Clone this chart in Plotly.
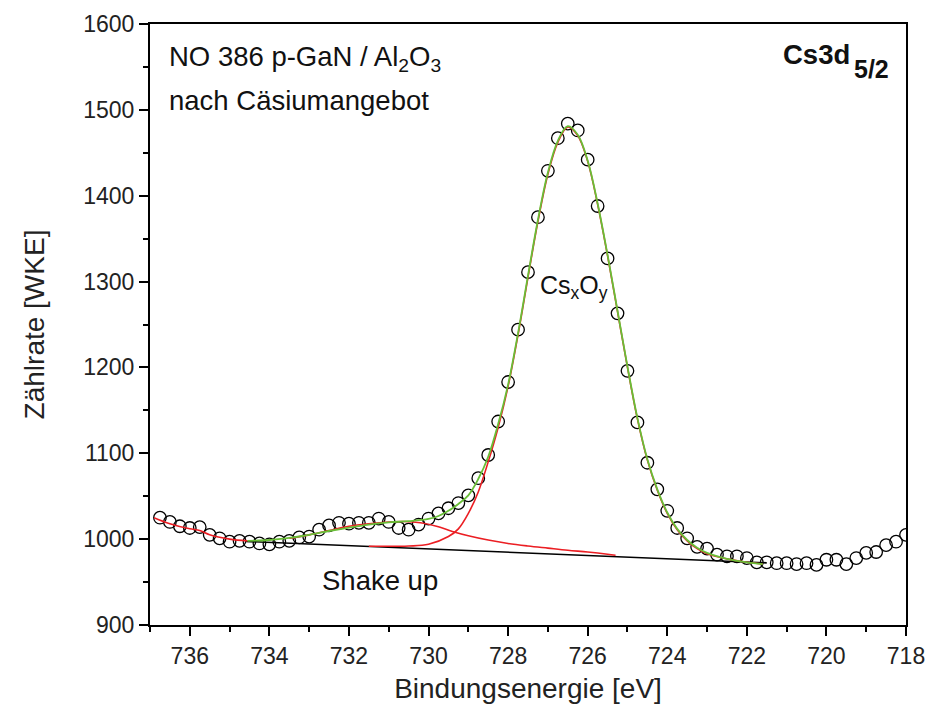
import plotly.graph_objects as go

# ---- measured data (open circles) ----
energy = [736.75, 736.5, 736.25, 736.0, 735.75, 735.5, 735.25, 735.0, 734.75, 734.5,
          734.25, 734.0, 733.75, 733.5, 733.25, 733.0, 732.75, 732.5, 732.25, 732.0,
          731.75, 731.5, 731.25, 731.0, 730.75, 730.5, 730.25, 730.0, 729.75, 729.5,
          729.25, 729.0, 728.75, 728.5, 728.25, 728.0, 727.75, 727.5, 727.25, 727.0,
          726.75, 726.5, 726.25, 726.0, 725.75, 725.5, 725.25, 725.0, 724.75, 724.5,
          724.25, 724.0, 723.75, 723.5, 723.25, 723.0, 722.75, 722.5, 722.25, 722.0,
          721.75, 721.5, 721.25, 721.0, 720.75, 720.5, 720.25, 720.0, 719.75, 719.5,
          719.25, 719.0, 718.75, 718.5, 718.25, 718.0]
counts = [1025, 1020, 1015, 1013, 1014, 1005, 1001, 997, 998, 997,
          995, 994, 997, 998, 1002, 1003, 1011, 1016, 1019, 1018,
          1019, 1019, 1024, 1020, 1013, 1011, 1017, 1024, 1030, 1036,
          1042, 1051, 1071, 1098, 1137, 1183, 1244, 1311, 1375, 1429,
          1467, 1484, 1476, 1442, 1388, 1327, 1263, 1196, 1136, 1089,
          1058, 1033, 1013, 1001, 991, 989, 982, 980, 980, 978,
          973, 973, 972, 972, 971, 972, 970, 976, 976, 971,
          978, 984, 985, 993, 997, 1005]

# ---- red line left of fit range ----
left_x = [736.9, 736.5, 736.0, 735.75, 735.5, 735.0, 734.55]
left_y = [1025, 1018, 1012, 1010, 1005, 1000, 998]

# ---- baseline ----
base_x = [734.6, 721.5]
base_y = [997.3, 972.4]

# ---- shake-up component ----
shake_x = [733.5, 733.0, 732.5, 732.0, 731.5, 731.0, 730.6, 730.2, 729.8, 729.4,
           729.0, 728.5, 728.0, 727.5, 727.0, 726.5, 726.0, 725.5, 725.3]
shake_y = [1001, 1005, 1010, 1015, 1018, 1020, 1020.5, 1019, 1015, 1009,
           1004, 999, 995, 992, 989.5, 987, 985, 982.5, 981.3]

# ---- main Cs_xO_y component ----
main_x = [731.5, 730.5, 730.0, 729.5, 729.25, 729.0, 728.75, 728.5, 728.25, 728.0,
          727.75, 727.5, 727.25, 727.0, 726.75, 726.5, 726.25, 726.0, 725.75, 725.5,
          725.25, 725.0, 724.75, 724.5, 724.25, 724.0, 723.75, 723.5, 723.25, 723.0,
          722.5, 722.0, 721.6]
main_y = [991.8, 992, 994, 1003, 1012, 1030, 1055, 1090, 1130, 1178,
          1238, 1305, 1370, 1425, 1462, 1480, 1470, 1440, 1390, 1330,
          1265, 1200, 1140, 1092, 1057, 1030, 1011, 998, 989, 983,
          977, 973, 971]

# ---- cumulative fit (green) ----
sum_x = [734.55, 734.0, 733.5, 733.0, 732.5, 732.0, 731.5, 731.0, 730.5, 730.0,
         729.75, 729.5, 729.25, 729.0, 728.75, 728.5, 728.25, 728.0, 727.75, 727.5,
         727.25, 727.0, 726.75, 726.5, 726.25, 726.0, 725.75, 725.5, 725.25, 725.0,
         724.75, 724.5, 724.25, 724.0, 723.75, 723.5, 723.25, 723.0, 722.5, 722.0, 721.6]
sum_y = [998, 999, 1001.5, 1005, 1009.5, 1013.5, 1017, 1019.5, 1021, 1023.5,
         1027, 1033, 1041, 1051, 1070, 1096, 1134, 1180, 1240, 1307,
         1372, 1427, 1464, 1481, 1471, 1441, 1391, 1331, 1266, 1201,
         1141, 1093, 1058, 1031, 1012, 999, 990, 984, 977, 973, 971]

RED = "rgb(235,30,35)"
GREEN = "rgb(105,190,55)"
FONT = "Liberation Sans, Arial, sans-serif"

fig = go.Figure()
fig.add_trace(go.Scatter(x=energy, y=counts, mode="markers",
                         marker=dict(symbol="circle-open", size=12.5, color="black",
                                     line=dict(width=1.3, color="black")),
                         showlegend=False))
fig.add_trace(go.Scatter(x=base_x, y=base_y, mode="lines",
                         line=dict(color="black", width=1.6), showlegend=False))
fig.add_trace(go.Scatter(x=left_x, y=left_y, mode="lines",
                         line=dict(color=RED, width=1.6, shape="spline"), showlegend=False))
fig.add_trace(go.Scatter(x=shake_x, y=shake_y, mode="lines",
                         line=dict(color=RED, width=1.6, shape="spline"), showlegend=False))
fig.add_trace(go.Scatter(x=main_x, y=main_y, mode="lines",
                         line=dict(color=RED, width=1.6, shape="spline"), showlegend=False))
fig.add_trace(go.Scatter(x=sum_x, y=sum_y, mode="lines",
                         line=dict(color=GREEN, width=1.8, shape="spline"), showlegend=False))

axis_common = dict(showgrid=False, zeroline=False, showline=True, linecolor="black",
                   linewidth=2, mirror=True, ticks="outside", tickwidth=2,
                   tickcolor="black", ticklen=9, automargin=False,
                   tickfont=dict(family=FONT, size=23, color="#222"))

fig.update_xaxes(range=[737, 718], tick0=0, dtick=2,
                 minor=dict(dtick=1, ticks="outside", ticklen=5, tickwidth=2, tickcolor="black"),
                 title=dict(text="Bindungsenergie [eV]", font=dict(family=FONT, size=28, color="#222"),
                            standoff=12),
                 **axis_common)
fig.update_yaxes(range=[900, 1600], tick0=0, dtick=100,
                 minor=dict(dtick=50, ticks="outside", ticklen=5, tickwidth=2, tickcolor="black"),
                 title=dict(text="Zählrate [WKE]", font=dict(family=FONT, size=28, color="#222"),
                            standoff=30),
                 **axis_common)

def ann(text, x, y, size, xanchor="left"):
    fig.add_annotation(text=text, x=x, y=y, xref="paper", yref="paper",
                       xanchor=xanchor, yanchor="middle", showarrow=False,
                       font=dict(family=FONT, size=size, color="#111"))

W0, H0, L, B = 756.0, 601.0, 150.0, 625.0
px = lambda p: (p - L) / W0
py = lambda p: (B - p) / H0

ann("NO 386 p-GaN / Al<sub>2</sub>O<sub>3</sub>", px(167), py(59), 27.5)
ann("nach Cäsiumangebot", px(167), py(100), 27.5)
ann("<b>Cs3d</b>", px(852), py(55), 27.5, xanchor="right")
ann("<b>5/2</b>", px(852), py(69), 25, xanchor="left")
ann("Cs<sub>x</sub>O<sub>y</sub>", px(538), py(287), 25)
ann("Shake up", px(320), py(580), 27.5)

# page body has an 8px default margin; compensate so the plot box sits at 150..906 / 24..625
fig.update_layout(width=933, height=696, plot_bgcolor="white", paper_bgcolor="white",
                  margin=dict(l=142, r=35, t=16, b=79),
                  font=dict(family=FONT, color="#222"))

fig.write_html("out.html")
